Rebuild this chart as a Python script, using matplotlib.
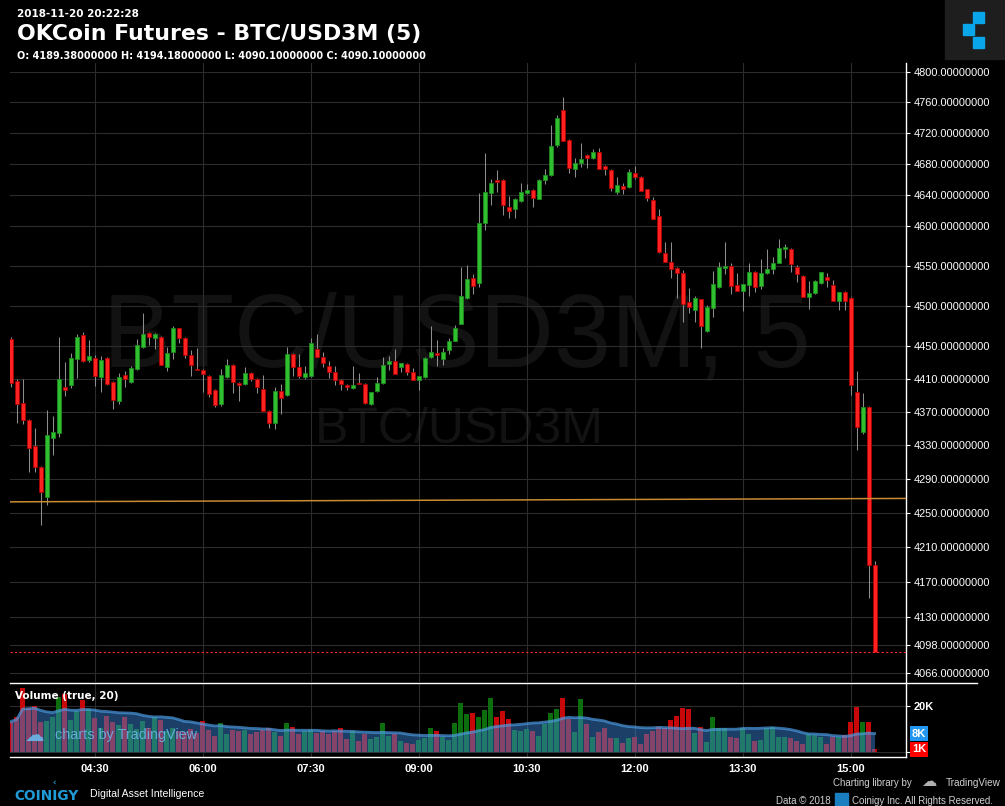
import matplotlib
matplotlib.use("Agg")
import matplotlib.pyplot as plt
import numpy as np
import pandas as pd
from matplotlib.lines import Line2D
from matplotlib.patches import Rectangle
from matplotlib.ticker import FixedLocator, NullLocator, NullFormatter

W, H = 1005, 806

# 5 minute candles, first one at 03:20 (minutes after midnight)
start_min = 200
opens = [4459, 4408, 4381, 4360, 4329, 4304, 4269, 4339, 4345, 4400,
         4403, 4434, 4464, 4433, 4436, 4412, 4436, 4406, 4383, 4415,
         4406, 4422, 4449, 4466, 4460, 4461, 4425, 4443, 4472, 4460,
         4439, 4422, 4421, 4414, 4397, 4380, 4412, 4427, 4405, 4404,
         4417, 4410, 4398, 4371, 4357, 4395, 4390, 4441, 4425, 4412,
         4414, 4447, 4437, 4426, 4419, 4409, 4403, 4399, 4405, 4404,
         4380, 4395, 4405, 4428, 4432, 4425, 4428, 4419, 4409, 4412,
         4437, 4442, 4434, 4445, 4457, 4478, 4510, 4535, 4528, 4604,
         4642, 4659, 4659, 4624, 4622, 4632, 4642, 4646, 4635, 4659,
         4665, 4704, 4750, 4711, 4673, 4681, 4691, 4687, 4695, 4677,
         4672, 4644, 4651, 4650, 4668, 4663, 4647, 4633, 4613, 4566,
         4555, 4547, 4541, 4505, 4495, 4508, 4469, 4497, 4523, 4547,
         4550, 4526, 4518, 4526, 4542, 4525, 4541, 4546, 4554, 4571,
         4571, 4548, 4537, 4511, 4516, 4528, 4536, 4526, 4506, 4517,
         4510, 4394, 4346, 4376, 4189.38]
highs = [4461, 4410, 4410, 4362, 4351, 4305, 4372, 4365, 4461, 4431,
         4442, 4465, 4468, 4458, 4439, 4438, 4437, 4407, 4417, 4420,
         4426, 4459, 4491, 4467, 4466, 4463, 4449, 4475, 4473, 4461,
         4445, 4448, 4422, 4415, 4398, 4422, 4434, 4428, 4406, 4425,
         4419, 4411, 4415, 4372, 4400, 4404, 4449, 4442, 4441, 4426,
         4460, 4465, 4443, 4432, 4426, 4410, 4404, 4426, 4417, 4405,
         4394, 4412, 4437, 4438, 4447, 4430, 4429, 4424, 4414, 4437,
         4475, 4458, 4448, 4460, 4476, 4548, 4551, 4540, 4642, 4694,
         4660, 4672, 4660, 4638, 4636, 4655, 4654, 4647, 4660, 4673,
         4730, 4743, 4767, 4712, 4687, 4707, 4692, 4699, 4700, 4678,
         4673, 4663, 4655, 4673, 4677, 4664, 4648, 4637, 4622, 4580,
         4580, 4548, 4545, 4522, 4512, 4509, 4501, 4544, 4555, 4580,
         4553, 4541, 4527, 4553, 4543, 4559, 4571, 4561, 4584, 4578,
         4572, 4551, 4538, 4531, 4532, 4542, 4541, 4532, 4517, 4518,
         4511, 4420, 4393, 4377, 4194.18]
lows = [4400, 4357, 4356, 4298, 4298, 4236, 4259, 4318, 4340, 4389,
        4399, 4411, 4431, 4431, 4401, 4394, 4403, 4374, 4380, 4400,
        4405, 4421, 4448, 4452, 4447, 4427, 4420, 4434, 4454, 4436,
        4414, 4421, 4394, 4388, 4376, 4377, 4411, 4393, 4383, 4403,
        4408, 4393, 4371, 4351, 4350, 4368, 4389, 4414, 4411, 4410,
        4413, 4437, 4425, 4411, 4403, 4397, 4397, 4398, 4404, 4380,
        4379, 4394, 4404, 4421, 4416, 4419, 4415, 4409, 4397, 4411,
        4436, 4426, 4427, 4441, 4456, 4477, 4509, 4515, 4523, 4595,
        4627, 4644, 4614, 4610, 4610, 4631, 4641, 4624, 4634, 4654,
        4664, 4702, 4709, 4668, 4663, 4676, 4674, 4686, 4673, 4666,
        4645, 4641, 4641, 4649, 4660, 4645, 4632, 4609, 4566, 4555,
        4535, 4510, 4480, 4491, 4480, 4448, 4468, 4486, 4522, 4540,
        4515, 4518, 4494, 4512, 4517, 4521, 4540, 4540, 4553, 4560,
        4542, 4530, 4511, 4496, 4515, 4527, 4523, 4506, 4495, 4495,
        4391, 4324, 4344, 4151, 4090.10]
closes = [4405, 4380, 4360, 4327, 4304, 4275, 4342, 4346, 4410, 4397,
          4436, 4461, 4432, 4438, 4414, 4433, 4404, 4385, 4412, 4410,
          4424, 4452, 4465, 4461, 4465, 4427, 4442, 4473, 4460, 4439,
          4427, 4421, 4416, 4392, 4379, 4415, 4427, 4406, 4403, 4417,
          4410, 4400, 4371, 4357, 4395, 4387, 4441, 4425, 4414, 4417,
          4454, 4437, 4430, 4419, 4409, 4404, 4400, 4403, 4404, 4381,
          4394, 4405, 4427, 4432, 4416, 4430, 4419, 4409, 4414, 4436,
          4443, 4439, 4443, 4457, 4473, 4512, 4533, 4525, 4604, 4644,
          4655, 4656, 4627, 4619, 4635, 4644, 4646, 4636, 4659, 4665,
          4703, 4739, 4709, 4674, 4681, 4686, 4687, 4695, 4673, 4673,
          4649, 4653, 4647, 4669, 4663, 4645, 4636, 4609, 4567, 4555,
          4546, 4541, 4502, 4499, 4510, 4475, 4499, 4527, 4548, 4550,
          4525, 4518, 4527, 4542, 4523, 4541, 4546, 4554, 4572, 4574,
          4552, 4540, 4511, 4516, 4531, 4542, 4532, 4506, 4517, 4506,
          4403, 4352, 4376, 4189.38, 4090.10]
# volume per candle, thousands
volumes_k = [13.1, 14.9, 27.6, 19.2, 20.1, 13.1, 13.4, 14.9, 23.6, 25.0,
             13.8, 17.5, 22.5, 18.6, 14.6, 10.2, 15.5, 13.1, 11.5, 14.9,
             12.0, 9.8, 13.5, 10.2, 15.0, 14.0, 9.0, 10.5, 9.0, 8.5,
             10.0, 8.0, 13.4, 9.5, 7.0, 12.4, 7.5, 9.6, 9.0, 9.6,
             7.6, 8.5, 9.6, 10.2, 8.5, 7.0, 12.4, 10.7, 7.6, 8.8,
             9.6, 8.0, 8.8, 7.5, 9.0, 10.2, 5.5, 8.8, 4.5, 7.6,
             5.5, 6.5, 12.4, 7.0, 7.6, 4.5, 4.0, 3.3, 5.0, 6.0,
             10.5, 8.8, 6.5, 5.1, 12.4, 21.1, 16.3, 16.7, 15.3, 18.0,
             23.3, 15.3, 17.9, 14.2, 9.5, 9.1, 9.8, 8.8, 7.0, 11.9,
             16.7, 18.5, 23.3, 14.2, 8.5, 22.8, 11.9, 6.3, 8.5, 10.2,
             5.9, 5.9, 4.0, 5.9, 6.3, 3.3, 7.7, 9.1, 10.9, 10.5,
             13.6, 15.7, 18.9, 18.5, 8.0, 10.9, 4.4, 15.3, 10.2, 10.5,
             6.6, 5.9, 10.2, 7.7, 4.7, 5.1, 10.5, 10.9, 6.6, 6.2,
             5.9, 4.7, 3.3, 7.7, 7.3, 6.6, 3.3, 6.6, 6.6, 7.3,
             12.8, 19.4, 13.1, 13.1, 1.0]

price_ticks = [4800, 4760, 4720, 4680, 4640, 4600, 4550, 4500, 4450, 4410,
               4370, 4330, 4290, 4250, 4210, 4170, 4130, 4098, 4066]
time_ticks = [270, 360, 450, 540, 630, 720, 810, 900]
trend_x = [199.5, 946.2]
trend_y = [4263, 4267]

GREEN = '#2fbf2f'
GREEN_EDGE = '#1f8a1f'
RED = '#ff2222'
RED_EDGE = '#b00000'
GRID = '#2c2c2c'
WATERMARK = '#121212'


def fig_xy(px, py):
    return px / W, 1 - py / H


fig = plt.figure(figsize=(W / 100, H / 100), dpi=100, facecolor='black')

o = np.array(opens, dtype=float)
hi = np.array(highs, dtype=float)
lo = np.array(lows, dtype=float)
c = np.array(closes, dtype=float)
times = start_min + 5 * np.arange(len(o))
up = c > o

# ---- price pane
ax = fig.add_axes([10 / W, 1 - 682 / H, 896 / W, 619 / H])
ax.set_facecolor('black')
ax.set_yscale('log')
ax.set_xlim(199.5, 946.2)
ax.set_ylim(4056.2, 4811.9)

ax.text(457 / W, 1 - 340 / H, 'BTC/USD3M, 5', transform=fig.transFigure,
        ha='center', va='center', fontsize=74, color=WATERMARK,
        family='Liberation Sans', zorder=0.4)
ax.text(459 / W, 1 - 430 / H, 'BTC/USD3M', transform=fig.transFigure,
        ha='center', va='center', fontsize=36, color=WATERMARK,
        family='Liberation Sans', zorder=0.4)

body_lo = np.minimum(o, c)
body_h = np.maximum(np.abs(c - o), 1.6)
ax.vlines(times, lo, hi, color='#8e8e8e', lw=0.75, zorder=2)
ax.bar(times, body_h, bottom=body_lo, width=3.4,
       color=np.where(up, GREEN, RED),
       edgecolor=np.where(up, GREEN_EDGE, RED_EDGE), linewidth=0.6, zorder=3)

ax.plot(trend_x, trend_y, color='#c98a32', lw=1.1, zorder=4)
ax.axhline(c[-1], color='#ff2a2a', lw=0.8, ls=(0, (2, 2)), zorder=4)

ax.yaxis.set_major_locator(FixedLocator(price_ticks))
ax.yaxis.set_minor_locator(NullLocator())
ax.yaxis.set_minor_formatter(NullFormatter())
ax.set_yticklabels(['%.8f' % p for p in price_ticks])
ax.yaxis.tick_right()
ax.tick_params(axis='y', colors='white', length=3, width=0.8, pad=2.5,
               labelsize=7.9)
for lab in ax.get_yticklabels():
    lab.set_family('Liberation Sans')
ax.set_xticks(time_ticks)
ax.tick_params(axis='x', length=0, labelbottom=False)
ax.grid(True, color=GRID, lw=0.8)
ax.set_axisbelow(True)
for side in ['top', 'left', 'bottom']:
    ax.spines[side].set_visible(False)
ax.spines['right'].set_color('white')
ax.spines['right'].set_linewidth(1)

# ---- volume pane
axv = fig.add_axes([10 / W, 1 - 757 / H, 896 / W, 74 / H])
axv.set_facecolor('black')
vol = np.array(volumes_k) * 1000
ma = pd.Series(vol).rolling(20, min_periods=1).mean().values
axv.bar(times, vol, width=4.1, color=np.where(up, '#0c6e0c', '#c80808'),
        zorder=2)
axv.fill_between(times, 0, ma, color='#3a86d6', alpha=0.48, lw=0, zorder=3)
axv.plot(times, ma, color='#4d9de6', lw=2.0, alpha=0.7, zorder=4)
axv.set_xlim(199.5, 946.2)
axv.set_ylim(-2300, 29900)
axv.set_yticks([0, 20000])
axv.set_yticklabels(['', '20K'])
axv.yaxis.tick_right()
axv.tick_params(axis='y', colors='white', length=3, width=0.8, pad=2.5,
                labelsize=7.9)
for lab in axv.get_yticklabels():
    lab.set_family('Liberation Sans')
    lab.set_fontweight('bold')
axv.set_xticks(time_ticks)
axv.set_xticklabels(['%02d:%02d' % (m // 60, m % 60) for m in time_ticks])
axv.tick_params(axis='x', length=0, pad=5, colors='white', labelsize=8)
for lab in axv.get_xticklabels():
    lab.set_family('Liberation Sans')
    lab.set_fontweight('bold')
axv.grid(True, color=GRID, lw=0.8)
axv.set_axisbelow(True)
for side in ['top', 'left']:
    axv.spines[side].set_visible(False)
for side in ['right', 'bottom']:
    axv.spines[side].set_color('white')
    axv.spines[side].set_linewidth(1)

ytr = axv.get_yaxis_transform()
axv.text(1 + 6 / 896, ma[-1], '%dK' % round(ma[-1] / 1000), transform=ytr,
         ha='left', va='center', color='white', fontsize=8, weight='bold',
         family='Liberation Sans', clip_on=False, zorder=6,
         bbox=dict(boxstyle='square,pad=0.2', fc='#2196f3', ec='none'))
axv.text(1 + 6 / 896, vol[-1], '%dK' % round(vol[-1] / 1000), transform=ytr,
         ha='left', va='center', color='white', fontsize=8, weight='bold',
         family='Liberation Sans', clip_on=False, zorder=6,
         bbox=dict(boxstyle='square,pad=0.2', fc='#ff0000', ec='none'))

fig.text(*fig_xy(15, 696), 'Volume (true, 20)', color='white', fontsize=7.5,
         weight='bold', va='center', ha='left')
fig.text(*fig_xy(25, 735), '\u2601', color='#6ab8ea', alpha=0.9, fontsize=14,
         va='center', ha='left')
fig.text(*fig_xy(55, 735), 'charts by TradingView', color='#6ab8ea',
         alpha=0.85, fontsize=10.4, family='Liberation Sans', va='center',
         ha='left')

# pane separator
fig.add_artist(Line2D([10 / W, 977 / W], [1 - 682.5 / H, 1 - 682.5 / H],
                      color='white', lw=1))

# ---- header
fig.text(*fig_xy(17, 17), '2018-11-20 20:22:28', color='white', fontsize=7.5,
         weight='bold', va='baseline')
fig.text(*fig_xy(17, 40), 'OKCoin Futures - BTC/USD3M (5)', color='white',
         fontsize=15.8, weight='bold', va='baseline')
fig.text(*fig_xy(17, 59),
         'O: %.8f H: %.8f L: %.8f C: %.8f' % (o[-1], hi[-1], lo[-1], c[-1]),
         color='white', fontsize=7.05, weight='bold', va='baseline')

# logo block top right
fig.add_artist(Rectangle(fig_xy(945, 59), 60 / W, 59 / H,
                         transform=fig.transFigure, color='#1e1e1e'))
for bx, by in [(973, 23), (963, 35), (973, 48)]:
    fig.add_artist(Rectangle(fig_xy(bx, by), 11 / W, 11 / H,
                             transform=fig.transFigure, color='#0aa6ea'))

# ---- footer
fig.text(*fig_xy(14, 800), 'COINIGY', color='#1f9bd7', fontsize=9.9,
         weight='bold', va='baseline')
fig.text(*fig_xy(52, 786), '\u2039', color='#1f9bd7', fontsize=6,
         weight='bold', va='baseline')
fig.text(*fig_xy(90, 797), 'Digital Asset Intelligence', color='white',
         fontsize=7.6, family='Liberation Sans', va='baseline')
fig.text(*fig_xy(912, 786), 'Charting library by', color='#d0d0d0',
         fontsize=7, family='Liberation Sans', va='baseline', ha='right')
fig.text(*fig_xy(921, 786), '\u2601', color='#b0b0b0', fontsize=11,
         va='baseline', ha='left')
fig.text(*fig_xy(946, 786), 'TradingView', color='#d0d0d0', fontsize=7.2,
         family='Liberation Sans', va='baseline', ha='left')
fig.text(*fig_xy(831, 804), 'Data \u00a9 2018', color='#d0d0d0', fontsize=7,
         family='Liberation Sans', va='baseline', ha='right')
fig.add_artist(Rectangle(fig_xy(835, 806), 13 / W, 13 / H,
                         transform=fig.transFigure, color='#1a7fc0'))
fig.text(*fig_xy(852, 804), 'Coinigy Inc. All Rights Reserved.',
         color='#d0d0d0', fontsize=7, family='Liberation Sans',
         va='baseline', ha='left')

fig.savefig('out.png', dpi=100, facecolor='black')
